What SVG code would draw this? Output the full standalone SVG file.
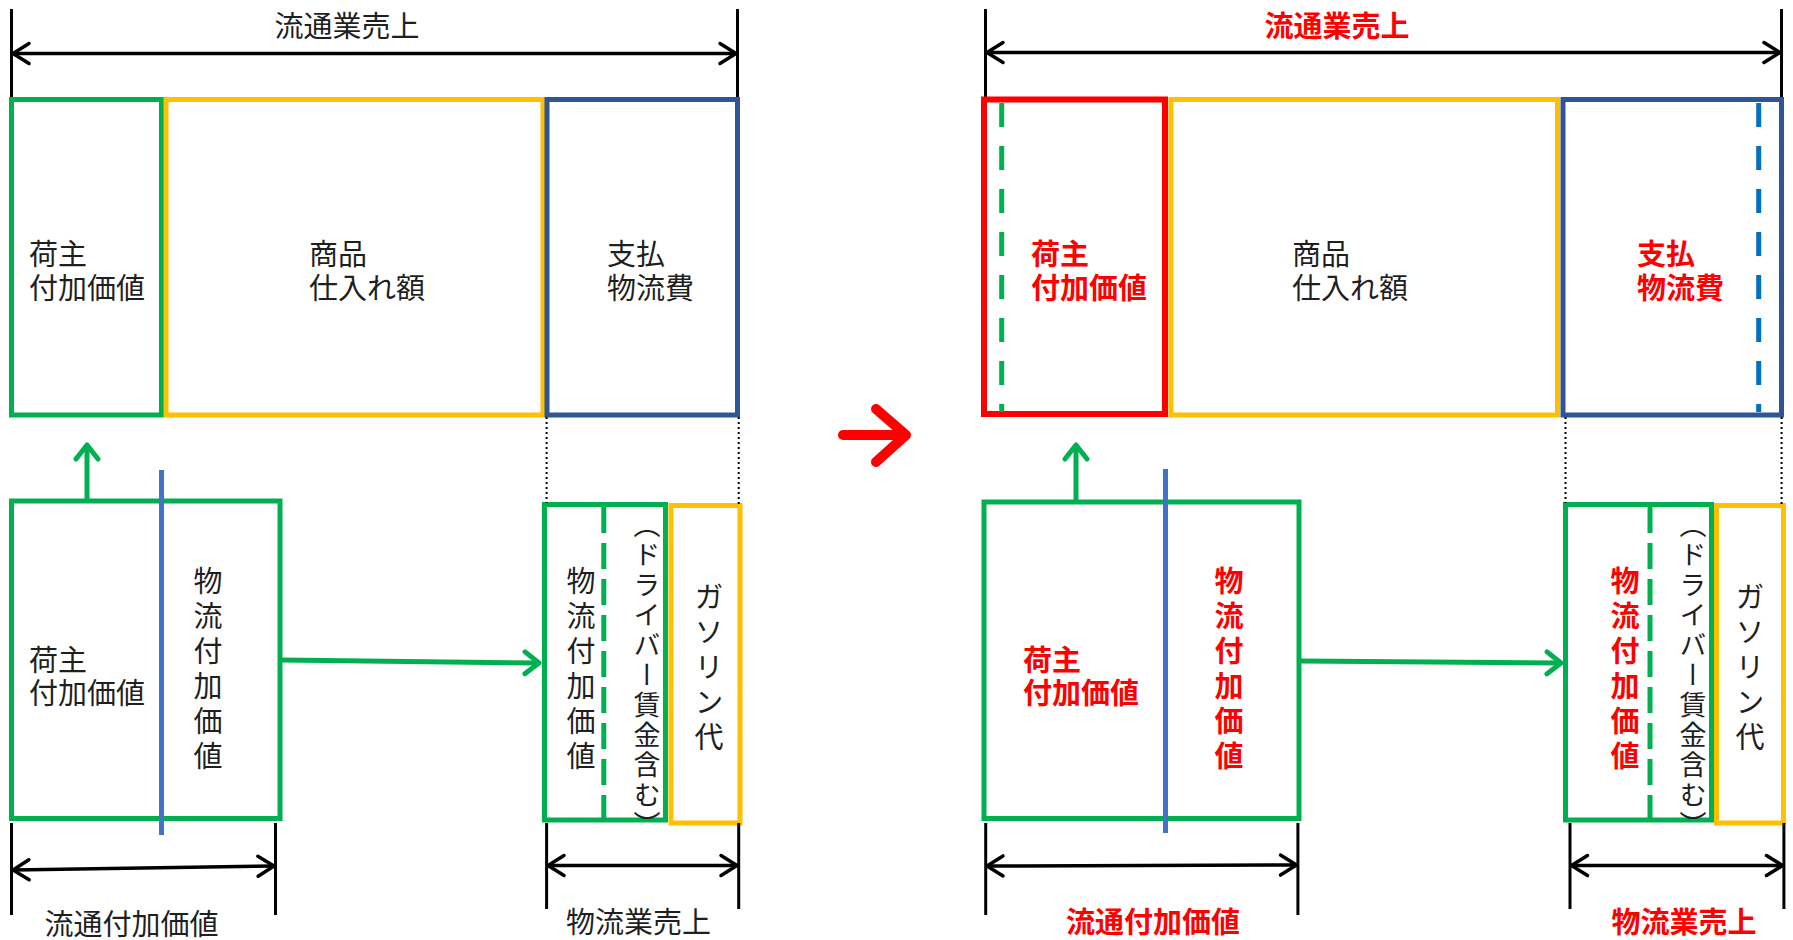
<svg xmlns="http://www.w3.org/2000/svg" width="1793" height="940" viewBox="0 0 1793 940">
<style>
.t{font-family:"Noto Sans CJK JP","Noto Sans",sans-serif;font-size:29px;fill:#1f1f1f}
.r{font-family:"Noto Sans CJK JP","Noto Sans",sans-serif;font-size:29px;fill:#ff0000;font-weight:bold}
.v{writing-mode:vertical-rl;letter-spacing:6px}
.vp{writing-mode:vertical-rl;font-size:27px;letter-spacing:3px}
.g{fill:none;stroke:#00b050;stroke-width:5}
.y{fill:none;stroke:#ffc000;stroke-width:5}
.b{fill:none;stroke:#2f5597;stroke-width:5}
.rb{fill:none;stroke:#ff0000;stroke-width:6}
.dim{stroke:#000;stroke-width:3;fill:none}
.dimarr{stroke:#000;stroke-width:3.5;fill:none;marker-start:url(#ah);marker-end:url(#ah)}
.dot{stroke:#000;stroke-width:2;stroke-dasharray:2 3;fill:none}
.garr{stroke:#00b050;stroke-width:5;fill:none;marker-end:url(#gh)}
.bl{stroke:#4472c4;stroke-width:5;fill:none}
.gd{stroke:#00b050;stroke-width:5;stroke-dasharray:24 19;fill:none}
.gd2{stroke:#00b050;stroke-width:5;stroke-dasharray:26 10;fill:none}
.bd{stroke:#0070c0;stroke-width:5;stroke-dasharray:24 19;fill:none}
</style>
<defs>
<marker id="ah" viewBox="-20 -14 24 28" refX="0" refY="0" markerWidth="24" markerHeight="28" markerUnits="userSpaceOnUse" orient="auto-start-reverse">
<path d="M-16,-10 L0,0 L-16,10" fill="none" stroke="#000" stroke-width="3.5" stroke-linecap="round" stroke-linejoin="round"/>
</marker>
<marker id="gh" viewBox="-20 -14 24 28" refX="0" refY="0" markerWidth="24" markerHeight="28" markerUnits="userSpaceOnUse" orient="auto">
<path d="M-14,-11 L0,0 L-14,11" fill="none" stroke="#00b050" stroke-width="5" stroke-linecap="round" stroke-linejoin="round"/>
</marker>
</defs>
<rect width="1793" height="940" fill="#fff"/>

<!-- LEFT PANEL -->
<g id="left-top-dim">
<line class="dim" x1="11.5" y1="9" x2="11.5" y2="97"/>
<line class="dim" x1="737.5" y1="9" x2="737.5" y2="97"/>
<text class="t" x="347" y="37" text-anchor="middle">流通業売上</text>
</g>
<g id="L-shipper"><rect class="g" x="11.5" y="99.5" width="150" height="315.5"/>
<text class="t" x="29" y="265">荷主<tspan x="29" dy="34">付加価値</tspan></text></g>
<g id="L-goods"><rect class="y" x="166" y="99.5" width="377" height="315.5"/>
<text class="t" x="309" y="265">商品<tspan x="309" dy="34">仕入れ額</tspan></text></g>
<g id="L-logi"><rect class="b" x="547" y="99.5" width="190.5" height="315.5"/>
<text class="t" x="607" y="265">支払<tspan x="607" dy="34">物流費</tspan></text></g>

<g id="L-bottom-box"><rect class="g" x="11.5" y="501" width="268.5" height="317.5"/>
<text class="t" x="29" y="671">荷主<tspan x="29" dy="33">付加価値</tspan></text>
<text class="t v" x="208" y="566">物流付加価値</text></g>
<g id="L-logi-box"><rect class="g" x="544.5" y="504.5" width="121" height="315.5"/>
<text class="t v" x="581" y="566">物流付加価値</text>
<text class="t vp" x="647" y="511">（ドライバー賃金含む）</text></g>
<g id="L-gas"><rect class="y" x="671" y="505.5" width="69" height="317.5"/>
<text class="t v" x="709" y="582">ガソリン代</text></g>

<!-- RED ARROW -->
<g id="red-arrow">
<path d="M843,435 L905,435 M876,409 L906,435 L876,462" fill="none" stroke="#ff0000" stroke-width="10" stroke-linecap="round" stroke-linejoin="round"/>
</g>

<!-- RIGHT PANEL -->
<g id="right-top-dim">
<line class="dim" x1="985.5" y1="9" x2="985.5" y2="97"/>
<line class="dim" x1="1781.5" y1="9" x2="1781.5" y2="97"/>
<text class="r" x="1337" y="37" text-anchor="middle">流通業売上</text>
</g>
<g id="R-shipper"><rect class="rb" x="984" y="99.5" width="181" height="314.5"/>
<text class="r" x="1031" y="265">荷主<tspan x="1031" dy="34">付加価値</tspan></text></g>
<g id="R-goods"><rect class="y" x="1171" y="99.5" width="386.5" height="315.5"/>
<text class="t" x="1292" y="265">商品<tspan x="1292" dy="34">仕入れ額</tspan></text></g>
<g id="R-logi"><rect class="b" x="1563" y="99.5" width="218.5" height="315.5"/>
<text class="r" x="1637" y="265">支払<tspan x="1637" dy="34">物流費</tspan></text></g>

<g id="R-bottom-box"><rect class="g" x="984" y="502" width="315" height="316.5"/>
<text class="r" x="1023" y="671">荷主<tspan x="1023" dy="33">付加価値</tspan></text>
<text class="r v" x="1229" y="566">物流付加価値</text></g>
<g id="R-logi-box"><rect class="g" x="1565.5" y="504.5" width="146" height="315.5"/>
<text class="r v" x="1625" y="566">物流付加価値</text>
<text class="t vp" x="1693" y="511">（ドライバー賃金含む）</text></g>
<g id="R-gas"><rect class="y" x="1716.5" y="505.5" width="67" height="317.5"/>
<text class="t v" x="1750" y="582">ガソリン代</text></g>

<!-- labels for bottom dims -->
<g id="dim-labels">
<text class="t" x="131.5" y="935" text-anchor="middle">流通付加価値</text>
<text class="t" x="638.5" y="933" text-anchor="middle">物流業売上</text>
<text class="r" x="1153" y="933" text-anchor="middle">流通付加価値</text>
<text class="r" x="1684" y="933" text-anchor="middle">物流業売上</text>
</g>

<g id="connectors">
<line class="dimarr" x1="13" y1="53.5" x2="736" y2="53.5"/>
<line class="dimarr" x1="987" y1="52.5" x2="1780" y2="52.5"/>
<line class="dot" x1="546.6" y1="417" x2="546.6" y2="503"/>
<line class="dot" x1="738.7" y1="417" x2="738.7" y2="505"/>
<line class="dot" x1="1565.5" y1="417" x2="1565.5" y2="503"/>
<line class="dot" x1="1781.6" y1="417" x2="1781.6" y2="505"/>
<line class="garr" x1="87" y1="500" x2="87" y2="445"/>
<line class="garr" x1="1076" y1="500" x2="1076" y2="445"/>
<line class="bl" x1="161.5" y1="470" x2="161.5" y2="835"/>
<line class="bl" x1="1165.5" y1="469" x2="1165.5" y2="833"/>
<line class="garr" x1="282" y1="660" x2="539" y2="663"/>
<line class="garr" x1="1301" y1="661" x2="1561" y2="663"/>
<line class="gd2" x1="603.8" y1="507" x2="603.8" y2="818"/>
<line class="gd2" x1="1650" y1="507" x2="1650" y2="818"/>
<line class="gd" x1="1001.7" y1="103" x2="1001.7" y2="412"/>
<line class="bd" x1="1758.7" y1="103" x2="1758.7" y2="412"/>
<line class="dim" x1="11.5" y1="823" x2="11.5" y2="915"/>
<line class="dim" x1="275.5" y1="823" x2="275.5" y2="915"/>
<line class="dimarr" x1="13" y1="870" x2="274" y2="866"/>
<line class="dim" x1="546.6" y1="823" x2="546.6" y2="909"/>
<line class="dim" x1="738.7" y1="823" x2="738.7" y2="909"/>
<line class="dimarr" x1="548" y1="865.5" x2="737" y2="865.5"/>
<line class="dim" x1="985.7" y1="823" x2="985.7" y2="915"/>
<line class="dim" x1="1297.9" y1="823" x2="1297.9" y2="915"/>
<line class="dimarr" x1="987" y1="866" x2="1296.5" y2="865"/>
<line class="dim" x1="1570" y1="823" x2="1570" y2="909"/>
<line class="dim" x1="1783.9" y1="823" x2="1783.9" y2="909"/>
<line class="dimarr" x1="1571.5" y1="865.5" x2="1782.5" y2="865.5"/>
</g>
</svg>
